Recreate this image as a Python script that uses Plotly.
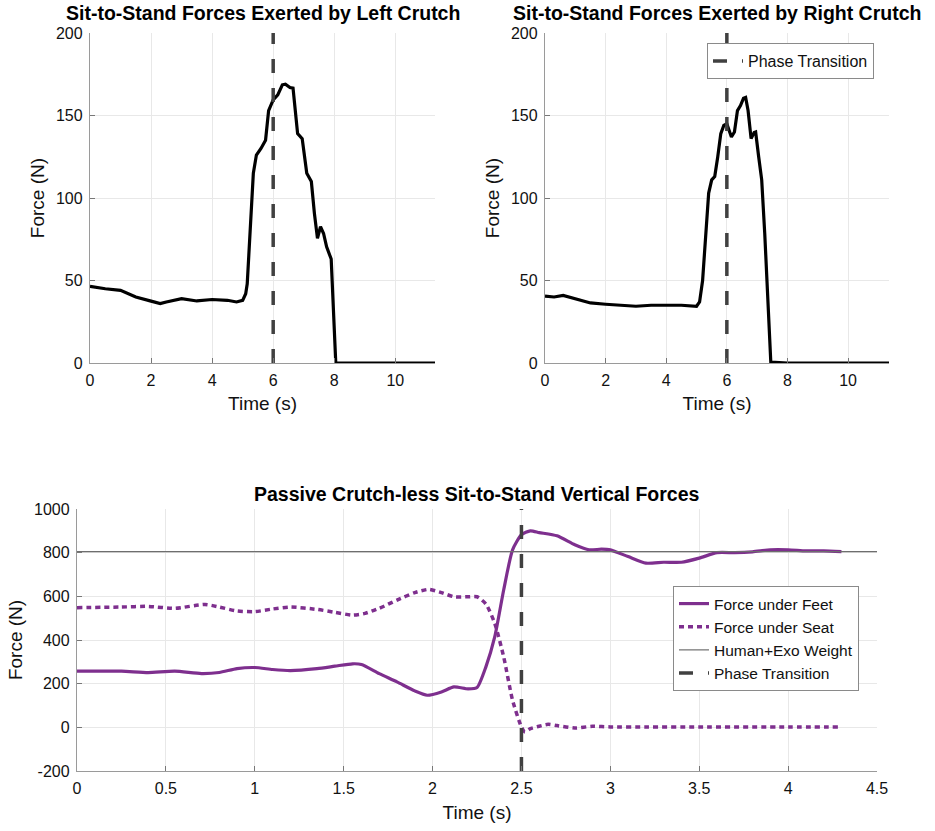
import plotly.graph_objects as go

# ---------------- data ----------------
left_t = [0, 0.5, 1.0, 1.5, 2.0, 2.3, 2.5, 3.0, 3.5, 4.0, 4.5, 4.8, 5.0, 5.1, 5.15, 5.25, 5.35, 5.45,
          5.6, 5.75, 5.85, 6.0, 6.15, 6.3, 6.4, 6.55, 6.65, 6.8, 6.95, 7.1, 7.25, 7.35, 7.45, 7.55,
          7.65, 7.75, 7.9, 8.05, 9.0, 10.0, 11.3]
left_f = [46.5, 45, 44, 40, 37.5, 36, 37, 39, 37.6, 38.5, 38, 37, 38, 42, 48, 78, 115, 126,
          130, 135, 153, 159.5, 162.5, 168.6, 169, 167, 166.6, 139, 136, 115, 110, 90.7, 75.5, 82.6,
          78.5, 70.4, 63, 0, 0, 0, 0]

right_t = [0, 0.3, 0.6, 1.0, 1.5, 2.0, 2.5, 3.0, 3.5, 4.0, 4.5, 5.0, 5.1, 5.2, 5.3, 5.4, 5.5, 5.6,
           5.7, 5.8, 5.9, 6.0, 6.15, 6.25, 6.35, 6.45, 6.55, 6.62, 6.7, 6.8, 6.9, 6.95, 7.05, 7.15,
           7.25, 7.35, 7.45, 8.0, 9.0, 10.0, 11.35]
right_f = [40.5, 40, 41, 39, 36.4, 35.6, 35, 34.4, 35, 35, 35, 34.4, 37, 50, 78.5, 103, 111, 113,
           125, 139, 144, 145, 137, 140, 153, 156, 160.5, 161, 153, 136, 139.7, 140, 125, 111,
           78.5, 38, 0.6, 0, 0, 0, 0]

feet_t = [0, 0.25, 0.4, 0.55, 0.7, 0.8, 0.9, 1.0, 1.1, 1.2, 1.35, 1.45, 1.55, 1.6, 1.7, 1.8, 1.9,
          1.97, 2.05, 2.12, 2.2, 2.25, 2.3, 2.35, 2.4, 2.45, 2.5, 2.55, 2.6, 2.7, 2.8, 2.88, 2.95,
          3.0, 3.1, 3.2, 3.3, 3.4, 3.5, 3.6, 3.7, 3.8, 3.9, 4.0, 4.1, 4.2, 4.3]
feet_f = [257, 257, 251, 257, 246, 251, 269, 274, 265, 260, 269, 280, 291, 288, 246, 208, 167,
          147, 162, 185, 176, 182, 277, 415, 629, 813, 882, 900, 892, 877, 836, 813, 816,
          813, 782, 752, 756, 756, 775, 800, 800, 804, 813, 813, 808, 808, 805]

seat_t = [0, 0.25, 0.4, 0.55, 0.72, 0.8, 0.9, 1.0, 1.1, 1.2, 1.35, 1.45, 1.55, 1.62, 1.7, 1.8, 1.9,
          1.98, 2.05, 2.12, 2.2, 2.25, 2.3, 2.35, 2.4, 2.45, 2.5, 2.52, 2.55, 2.6, 2.65, 2.7, 2.8,
          2.9, 3.0, 3.2, 3.5, 4.0, 4.3]
seat_f = [548, 551, 554, 545, 563, 551, 533, 530, 542, 551, 540, 527, 514, 522, 545, 583, 617,
          632, 617, 598, 598, 598, 565, 476, 323, 124, 1.5, -21, -6, 5, 14, 8, -3,
          5, 2, 2, 2, 2, 2]

weight_t = [0, 4.5]
weight_f = [805, 805]

top_phase_t = [6, 6]
top_phase_f = [0, 200]
bot_phase_t = [2.5, 2.5]
bot_phase_f = [-200, 1000]

top_xticks = [0, 2, 4, 6, 8, 10]
top_yticks = [0, 50, 100, 150, 200]
bot_xticks = [0, 0.5, 1, 1.5, 2, 2.5, 3, 3.5, 4, 4.5]
bot_yticks = [-200, 0, 200, 400, 600, 800, 1000]

# ---------------- styling ----------------
W, H = 935, 831
FONT = "Liberation Sans"
PURPLE = "#7E2F8E"
DASHC = "#404040"
PHASE_DASH = "14px,15px"

def px_x(p):
    return p / W

def px_y(p):
    return (H - p) / H

fig = go.Figure()

fig.add_trace(go.Scatter(x=left_t, y=left_f, mode="lines", line=dict(color="black", width=3.2),
                         showlegend=False, xaxis="x", yaxis="y"))
fig.add_trace(go.Scatter(x=top_phase_t, y=top_phase_f, mode="lines",
                         line=dict(color=DASHC, width=3.5, dash=PHASE_DASH),
                         showlegend=False, xaxis="x", yaxis="y"))

fig.add_trace(go.Scatter(x=right_t, y=right_f, mode="lines", line=dict(color="black", width=3.2),
                         showlegend=False, xaxis="x2", yaxis="y2"))
fig.add_trace(go.Scatter(x=top_phase_t, y=top_phase_f, mode="lines", name="Phase Transition",
                         line=dict(color=DASHC, width=3.5, dash=PHASE_DASH),
                         showlegend=True, legend="legend", xaxis="x2", yaxis="y2"))

fig.add_trace(go.Scatter(x=feet_t, y=feet_f, mode="lines", name="Force under Feet",
                         line=dict(color=PURPLE, width=3.2, shape="spline", smoothing=0.6),
                         legend="legend2", xaxis="x3", yaxis="y3"))
fig.add_trace(go.Scatter(x=seat_t, y=seat_f, mode="lines", name="Force under Seat",
                         line=dict(color=PURPLE, width=3.5, dash="5px,4px", shape="spline", smoothing=0.6),
                         legend="legend2", xaxis="x3", yaxis="y3"))
fig.add_trace(go.Scatter(x=weight_t, y=weight_f, mode="lines", name="Human+Exo Weight",
                         line=dict(color="#6e6e6e", width=1.2),
                         legend="legend2", xaxis="x3", yaxis="y3"))
fig.add_trace(go.Scatter(x=bot_phase_t, y=bot_phase_f, mode="lines", name="Phase Transition",
                         line=dict(color=DASHC, width=3.5, dash=PHASE_DASH),
                         legend="legend2", xaxis="x3", yaxis="y3"))

axis_common = dict(showgrid=True, gridcolor="#e8e8e8", gridwidth=1, zeroline=False,
                   showline=True, linecolor="#9a9a9a", linewidth=1.3, ticks="inside",
                   ticklen=5, tickcolor="#777777", mirror=False, automargin=False,
                   ticklabelstandoff=3,
                   tickfont=dict(family=FONT, size=16, color="#111111"))

top_ydom = [px_y(363), px_y(33)]
bot_ydom = [px_y(771), px_y(509)]
TS = 19

fig.update_layout(
    width=W, height=H,
    margin=dict(l=0, r=0, t=0, b=0, autoexpand=False),
    paper_bgcolor="white", plot_bgcolor="white",
    font=dict(family=FONT, size=16, color="#111111"),
    xaxis=dict(domain=[px_x(90), px_x(435)], range=[0, 11.3], tickvals=top_xticks,
               title=dict(text="Time (s)", font=dict(size=TS), standoff=8), anchor="y", **axis_common),
    yaxis=dict(domain=top_ydom, range=[0, 200], tickvals=top_yticks,
               title=dict(text="Force (N)", font=dict(size=TS), standoff=6), anchor="x", **axis_common),
    xaxis2=dict(domain=[px_x(545), px_x(889)], range=[0, 11.35], tickvals=top_xticks,
                title=dict(text="Time (s)", font=dict(size=TS), standoff=8), anchor="y2", **axis_common),
    yaxis2=dict(domain=top_ydom, range=[0, 200], tickvals=top_yticks,
                title=dict(text="Force (N)", font=dict(size=TS), standoff=6), anchor="x2", **axis_common),
    xaxis3=dict(domain=[px_x(77), px_x(877)], range=[0, 4.5], tickvals=bot_xticks,
                ticktext=[str(v) for v in bot_xticks],
                title=dict(text="Time (s)", font=dict(size=TS), standoff=9), anchor="y3", **axis_common),
    yaxis3=dict(domain=bot_ydom, range=[-200, 1000], tickvals=bot_yticks,
                ticktext=[str(v) for v in bot_yticks],
                title=dict(text="Force (N)", font=dict(size=TS), standoff=6), anchor="x3", **axis_common),
    legend=dict(x=px_x(707), y=px_y(43), xanchor="left", yanchor="top",
                bgcolor="white", bordercolor="#8a8a8a", borderwidth=1,
                font=dict(family=FONT, size=16, color="#111111"), itemwidth=30,
                tracegroupgap=0),
    legend2=dict(x=px_x(673), y=px_y(586), xanchor="left", yanchor="top",
                 bgcolor="white", bordercolor="#8a8a8a", borderwidth=1,
                 font=dict(family=FONT, size=15.5, color="#111111"), itemwidth=30,
                 tracegroupgap=0),
    showlegend=True,
)

titles = [
    ("Sit-to-Stand Forces Exerted by Left Crutch", (90 + 435) / 2, 13),
    ("Sit-to-Stand Forces Exerted by Right Crutch", (545 + 889) / 2, 13),
    ("Passive Crutch-less Sit-to-Stand Vertical Forces", (77 + 877) / 2, 494),
]
for text, cx, cy in titles:
    fig.add_annotation(text="<b>" + text + "</b>", x=px_x(cx), y=px_y(cy), xref="paper", yref="paper",
                       xanchor="center", yanchor="middle", showarrow=False,
                       font=dict(family=FONT, size=19.5, color="black"))

fig.write_html("out.html",
               config={"displayModeBar": False},
               post_script="document.body.style.margin='0px';document.body.style.padding='0px';")
